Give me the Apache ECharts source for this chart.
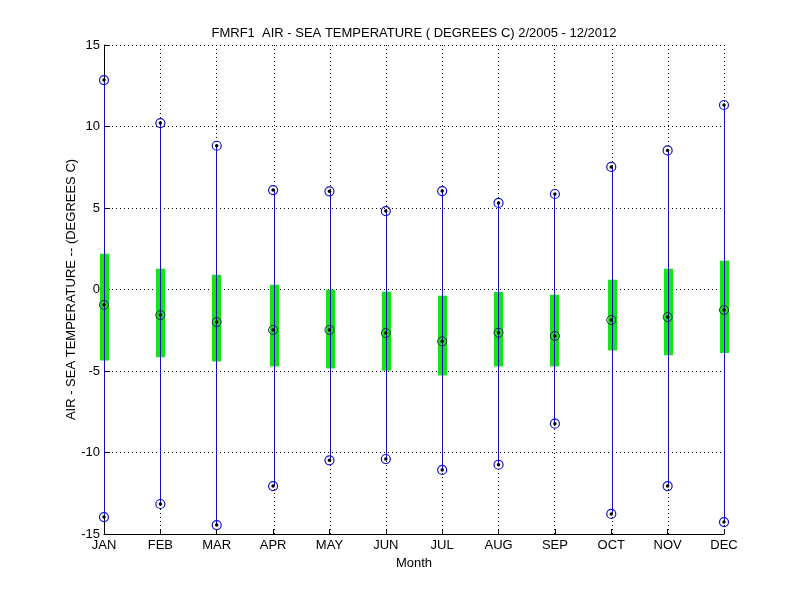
<!DOCTYPE html>
<html>
<head>
<meta charset="utf-8">
<script src="https://cdn.jsdelivr.net/npm/echarts@6/dist/echarts.min.js"></script>
<style>html,body{margin:0;padding:0;background:#fff;}#c{width:800px;height:600px;}</style>
</head>
<body>
<div id="c"></div>
<script>
var months = ['JAN','FEB','MAR','APR','MAY','JUN','JUL','AUG','SEP','OCT','NOV','DEC'];
var maxVals = [12.85, 10.21, 8.82, 6.10, 6.02, 4.81, 6.04, 5.31, 5.86, 7.52, 8.53, 11.32];
var minVals = [-13.96, -13.16, -14.45, -12.06, -10.48, -10.40, -11.07, -10.75, -8.23, -13.77, -12.06, -14.27];
var boxTop = [2.20, 1.28, 0.91, 0.29, -0.01, -0.13, -0.38, -0.15, -0.32, 0.60, 1.28, 1.77];
var boxBottom = [-4.35, -4.16, -4.41, -4.72, -4.84, -4.98, -5.27, -4.72, -4.72, -3.74, -4.04, -3.90];
var meanVals = [-0.94, -1.57, -2.00, -2.48, -2.48, -2.67, -3.18, -2.65, -2.85, -1.87, -1.69, -1.26];
var yTicks = [-15, -10, -5, 0, 5, 10, 15];

var FONT = 'Liberation Sans';
var Y_MIN = -15, Y_MAX = 15;
var rangeData = months.map(function (m, i) { return [i, minVals[i], maxVals[i]]; });
var boxData = months.map(function (m, i) { return [i, boxBottom[i], boxTop[i]]; });
var extremeData = [];
months.forEach(function (m, i) { extremeData.push([i, maxVals[i]]); extremeData.push([i, minVals[i]]); });
var meanData = months.map(function (m, i) { return [i, meanVals[i]]; });
var dotData = extremeData.concat(meanData);

function snapX(px) { return 2 * Math.round(px / 2) + 0.5; }

var chart = echarts.init(document.getElementById('c'));
chart.setOption({
  animation: false,
  backgroundColor: '#fff',
  title: {
    text: 'FMRF1  AIR - SEA TEMPERATURE ( DEGREES C) 2/2005 - 12/2012',
    left: 409, top: 22, textAlign: 'center',
    textStyle: { fontFamily: FONT, fontSize: 13, fontWeight: 'normal', color: '#000' }
  },
  grid: { left: 104, right: 76, top: 45, bottom: 66 },
  xAxis: {
    type: 'category', data: months, boundaryGap: false,
    name: 'Month', nameLocation: 'middle', nameGap: 23, nameMoveOverlap: false,
    nameTextStyle: { fontFamily: FONT, fontSize: 13, color: '#000' },
    axisLine: { onZero: false, lineStyle: { color: '#000', width: 1 } },
    axisTick: { inside: true, length: 5, lineStyle: { color: '#000' } },
    axisLabel: { fontFamily: FONT, fontSize: 13, color: '#000', margin: 5 },
    splitLine: { show: false }
  },
  yAxis: {
    type: 'value', min: Y_MIN, max: Y_MAX, interval: 5,
    name: 'AIR - SEA TEMPERATURE -- (DEGREES C)', nameLocation: 'middle', nameGap: 26, nameMoveOverlap: false,
    nameTextStyle: { fontFamily: FONT, fontSize: 13, color: '#000' },
    axisLine: { show: true, onZero: false, lineStyle: { color: '#000', width: 1 } },
    axisTick: { show: true, inside: true, length: 6, lineStyle: { color: '#000' } },
    axisLabel: { fontFamily: FONT, fontSize: 13, color: '#000', margin: 4,
      formatter: function (v) { return yTicks.indexOf(v) >= 0 ? String(v) : ''; } },
    splitLine: { show: true, lineStyle: { color: '#000', type: [1, 3], width: 1 } }
  },
  series: [
    {
      type: 'custom', name: 'vgrid', data: rangeData, z: 1, silent: true,
      renderItem: function (params, api) {
        var top = api.coord([api.value(0), Y_MAX]);
        var bot = api.coord([api.value(0), Y_MIN]);
        var x = snapX(top[0]);
        return { type: 'line', shape: { x1: x, y1: top[1], x2: x, y2: bot[1] },
          style: { stroke: '#000', lineWidth: 1, lineDash: [1, 3] } };
      }
    },
    {
      type: 'custom', name: 'box', data: boxData, z: 2,
      renderItem: function (params, api) {
        var p1 = api.coord([api.value(0), api.value(2)]);
        var p2 = api.coord([api.value(0), api.value(1)]);
        var x = snapX(p1[0]);
        return { type: 'rect', shape: { x: x - 4.5, y: p1[1], width: 9, height: p2[1] - p1[1] },
          style: { fill: '#14e614' } };
      }
    },
    {
      type: 'custom', name: 'range', data: rangeData, z: 3,
      renderItem: function (params, api) {
        var p1 = api.coord([api.value(0), api.value(2)]);
        var p2 = api.coord([api.value(0), api.value(1)]);
        var x = snapX(p1[0]);
        return { type: 'line', shape: { x1: x, y1: p1[1], x2: x, y2: p2[1] },
          style: { stroke: '#1010c0', lineWidth: 1 } };
      }
    },
    {
      type: 'scatter', name: 'extremes', data: extremeData, z: 4,
      symbol: 'circle', symbolSize: 9,
      itemStyle: { color: 'rgba(0,0,0,0)', borderColor: '#1010c8', borderWidth: 1.2, opacity: 1 }
    },
    {
      type: 'scatter', name: 'mean', data: meanData, z: 4,
      symbol: 'circle', symbolSize: 9,
      itemStyle: { color: 'rgba(0,0,0,0)', borderColor: '#202050', borderWidth: 1, opacity: 1 }
    },
    {
      type: 'scatter', name: 'dots', data: dotData, z: 5,
      symbol: 'circle', symbolSize: 3.5,
      itemStyle: { color: '#000', opacity: 1 }
    }
  ]
});
</script>
</body>
</html>
